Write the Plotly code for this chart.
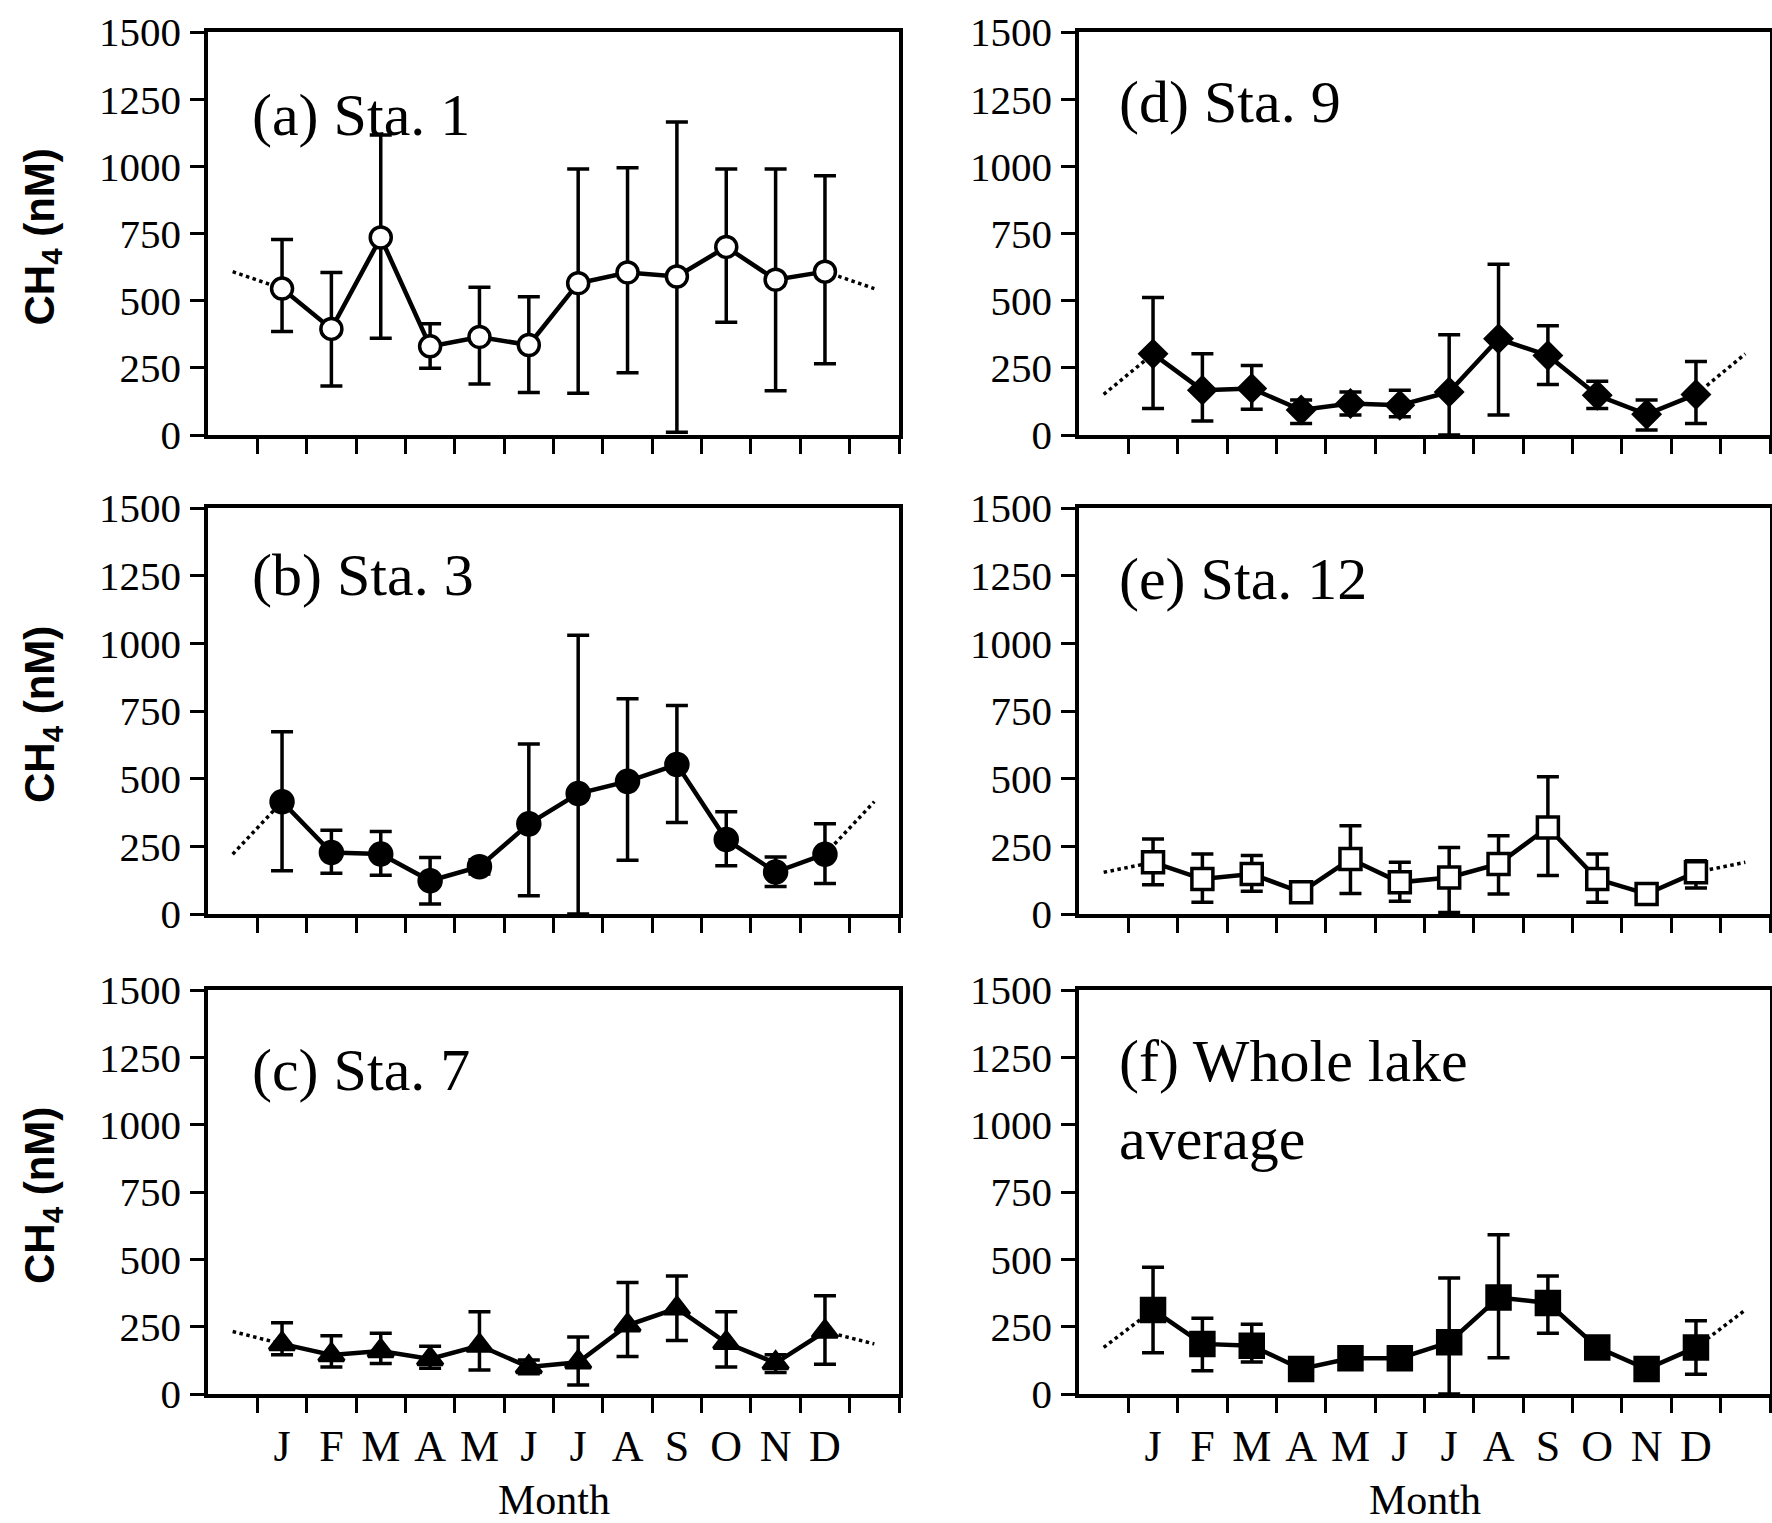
import plotly.graph_objects as go
from plotly.subplots import make_subplots

# ---------------- data ----------------
months = ["J", "F", "M", "A", "M", "J", "J", "A", "S", "O", "N", "D"]
month_idx = list(range(1, 13))

# (a) Sta. 1
a_mean = [545, 395, 735, 330, 365, 335, 565, 605, 590, 700, 578, 608]
a_hi = [728, 605, 1117, 414, 550, 515, 990, 995, 1165, 990, 990, 965]
a_lo = [385, 182, 360, 248, 190, 158, 155, 232, 10, 420, 165, 265]
# (b) Sta. 3
b_mean = [415, 227, 222, 123, 175, 333, 445, 490, 552, 275, 155, 221]
b_hi = [673, 309, 305, 209, 200, 628, 1030, 795, 770, 378, 211, 333]
b_lo = [160, 151, 143, 37, 148, 67, 0, 199, 338, 178, 102, 113]
# (c) Sta. 7
c_mean = [186, 145, 160, 130, 180, 100, 118, 255, 318, 190, 115, 232]
c_hi = [265, 216, 226, 177, 305, 126, 212, 414, 438, 305, 146, 365]
c_lo = [146, 100, 113, 96, 89, 75, 33, 139, 199, 100, 80, 110]
# (d) Sta. 9
d_mean = [302, 167, 173, 93, 117, 111, 160, 358, 296, 148, 77, 151]
d_hi = [512, 302, 259, 130, 160, 167, 373, 636, 407, 200, 130, 274]
d_lo = [99, 52, 96, 43, 74, 68, 0, 74, 188, 99, 19, 43]
# (e) Sta. 12
e_mean = [191, 129, 148, 80, 203, 117, 135, 185, 320, 129, 74, 154]
e_hi = [277, 222, 216, 100, 326, 191, 246, 289, 507, 222, 105, 197]
e_lo = [108, 43, 84, 60, 76, 47, 6, 74, 142, 43, 37, 96]
# (f) Whole lake average
f_mean = [312, 186, 179, 93, 133, 133, 192, 358, 338, 173, 93, 173]
f_hi = [471, 281, 259, 115, 155, 155, 431, 591, 438, 195, 115, 272]
f_lo = [153, 86, 119, 71, 111, 111, 0, 135, 226, 151, 71, 73]

panel_labels = ["(a) Sta. 1", "(b) Sta. 3", "(c) Sta. 7",
                "(d) Sta. 9", "(e) Sta. 12", "(f) Whole lake<br>average"]
y_ticks = [0, 250, 500, 750, 1000, 1250, 1500]

# ---------------- layout geometry ----------------
W, H = 1772, 1523
col_px = [(208, 899), (1079, 1770)]
row_px = [(32, 435), (508, 914), (990, 1394)]

SERIF = "Liberation Serif"
SANS = "Liberation Sans"

fig = make_subplots(rows=3, cols=2)

panels = [
    # row, col, mean, hi, lo, symbol, fill, size, label-offset-from-top (px)
    (1, 1, a_mean, a_hi, a_lo, "circle", "white", 21, 83),
    (2, 1, b_mean, b_hi, b_lo, "circle", "black", 22, 67),
    (3, 1, c_mean, c_hi, c_lo, "triangle-up", "black", 22, 80),
    (1, 2, d_mean, d_hi, d_lo, "diamond", "black", 20, 70),
    (2, 2, e_mean, e_hi, e_lo, "square", "white", 21, 71),
    (3, 2, f_mean, f_hi, f_lo, "square", "black", 23, 110),
]

annotations = []
for k, (r, c, mean, hi, lo, sym, fill, msize, lab_off) in enumerate(panels):
    # dotted wrap-around connectors (previous Dec -> Jan, Dec -> next Jan)
    for xs, ys in (([0, 1], [mean[-1], mean[0]]), ([12, 13], [mean[-1], mean[0]])):
        fig.add_trace(go.Scatter(x=xs, y=ys, mode="lines",
                                 line=dict(color="black", width=3.5, dash="dot"),
                                 showlegend=False, hoverinfo="skip"), row=r, col=c)
    fig.add_trace(go.Scatter(
        x=month_idx, y=mean, mode="lines+markers",
        line=dict(color="black", width=4.5),
        marker=dict(symbol=sym, size=msize, color=fill,
                    line=dict(color="black", width=3.5)),
        error_y=dict(type="data", symmetric=False,
                     array=[h - m for h, m in zip(hi, mean)],
                     arrayminus=[m - l for m, l in zip(mean, lo)],
                     color="black", thickness=3.5, width=11),
        showlegend=False), row=r, col=c)

    x0, x1 = col_px[c - 1]
    y0, y1 = row_px[r - 1]
    fig.update_xaxes(domain=[x0 / W, x1 / W], row=r, col=c)
    fig.update_yaxes(domain=[1 - y1 / H, 1 - y0 / H], row=r, col=c)

    idx = (r - 1) * 2 + c
    xname = "x" if idx == 1 else f"x{idx}"
    yname = "y" if idx == 1 else f"y{idx}"
    ph = y1 - y0
    pw = x1 - x0
    label = panel_labels[(c - 1) * 3 + (r - 1)]
    annotations.append(dict(
        text=label, xref=f"{xname} domain", yref=f"{yname} domain",
        x=(42 if c == 1 else 38) / pw, y=1 - lab_off / ph,
        xanchor="left", yanchor="middle", align="left", showarrow=False,
        font=dict(family=SERIF, size=60, color="black")))

    if c == 1:
        annotations.append(dict(
            text="CH<sub>4</sub> (nM)", xref="paper", yref="paper",
            x=42 / W, y=1 - ((y0 + y1) / 2 + 4) / H, textangle=-90,
            xanchor="center", yanchor="middle", showarrow=False,
            font=dict(family=SANS, size=42, color="black", weight="bold")))

    if r == 3:
        annotations.append(dict(
            text="Month", xref="paper", yref="paper",
            x=((x0 + x1) / 2) / W, y=1 - 1500 / H,
            xanchor="center", yanchor="middle", showarrow=False,
            font=dict(family=SERIF, size=42, color="black")))

fig.update_xaxes(
    range=[-0.5, 13.5], tickmode="array", tickvals=month_idx, ticktext=months,
    ticks="", showline=True, linewidth=3.5, linecolor="black", mirror=True,
    showgrid=False, zeroline=False, automargin=False,
    tickfont=dict(family=SERIF, size=44, color="black"),
    ticklabelstandoff=10,
    minor=dict(tickmode="array", tickvals=[i + 0.5 for i in range(14)],
               ticks="outside", ticklen=15, tickwidth=3, tickcolor="black",
               showgrid=False),
)
for r in (1, 2):
    for c in (1, 2):
        fig.update_xaxes(showticklabels=False, row=r, col=c)

fig.update_yaxes(
    range=[0, 1500], tickmode="array", tickvals=y_ticks,
    ticks="outside", ticklen=14, tickwidth=3, tickcolor="black",
    showline=True, linewidth=3.5, linecolor="black", mirror=True,
    showgrid=False, zeroline=False, automargin=False,
    tickfont=dict(family=SERIF, size=41, color="black"),
    ticklabelstandoff=1,
)

fig.update_layout(
    width=W, height=H, margin=dict(l=0, r=0, t=0, b=0),
    paper_bgcolor="white", plot_bgcolor="white",
    annotations=annotations, showlegend=False,
)

fig.write_html("out.html")
